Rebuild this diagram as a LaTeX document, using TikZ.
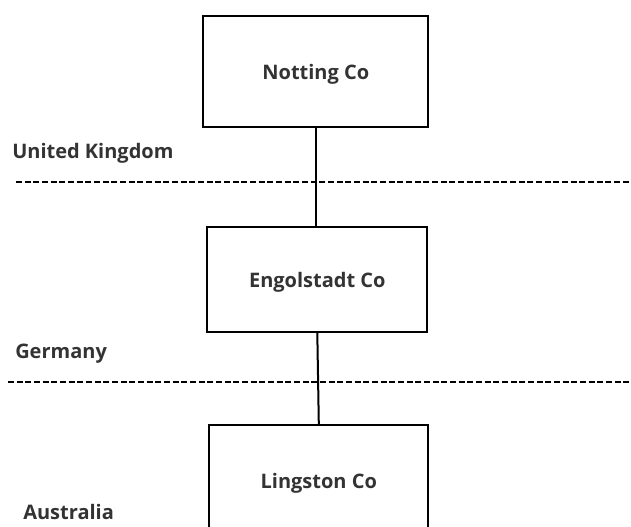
\documentclass[tikz,border=0pt]{standalone}
\usepackage{fontspec}
\setmainfont{Open Sans}
\begin{document}
\begin{tikzpicture}[x=0.75pt,y=-0.75pt,
  company/.style={draw=black, line width=1.5pt, fill=white, rectangle,
    inner sep=0pt, text height=13pt, text depth=0pt, text=labelgray,
    font=\fontsize{15pt}{18pt}\selectfont\bfseries},
  country/.style={anchor=base west, inner sep=0pt, text=labelgray,
    font=\fontsize{15pt}{18pt}\selectfont\bfseries},
  link/.style={draw=black, line width=1.5pt},
  border/.style={draw=black, line width=1.5pt, dash pattern=on 4.5pt off 2pt}]
\definecolor{labelgray}{HTML}{333333}
\useasboundingbox (0,0) rectangle (631,527);

% companies
\node[company, minimum width=168.75pt, minimum height=83pt] (notting) at (315.8,71.3) {Notting Co};
\node[company, minimum width=165pt, minimum height=78.75pt] (engol) at (317.3,279.2) {Engolstadt Co};
\node[company, minimum width=164.25pt, minimum height=82.5pt] (lingston) at (318.8,480) {Lingston Co};

% ownership links
\draw[link] (notting.south) -- (notting.south |- engol.north);
\draw[link] (engol.south) -- (lingston.north);

% national borders
\coordinate (ukL) at (16,182.5);
\coordinate (ukR) at (631,182.5);
\coordinate (deL) at (8,381.5);
\coordinate (deR) at (631,381.5);
\draw[border] (ukL) -- (ukR);
\draw[border] (deL) -- (deR);

% country names
\node[country] (uk) at (12,159) {United Kingdom};
\node[country] (de) at (15,358) {Germany};
\node[country] (au) at (23,519.5) {Australia};
\end{tikzpicture}
\end{document}
